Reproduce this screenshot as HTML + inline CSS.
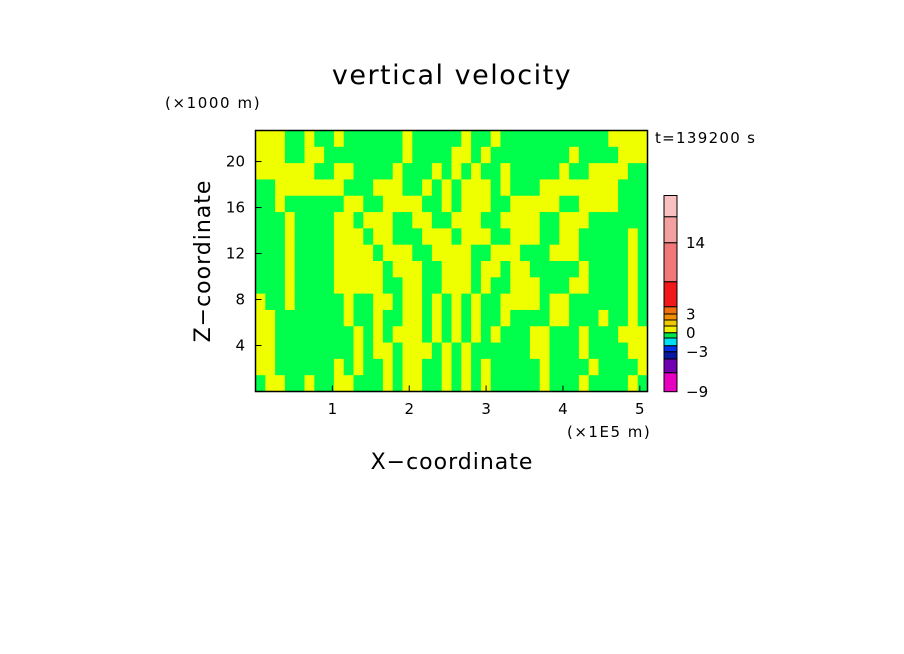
<!DOCTYPE html>
<html><head><meta charset="utf-8"><style>
html,body{margin:0;padding:0;background:#fff;width:904px;height:654px;overflow:hidden}
text{font-family:"DejaVu Sans","Liberation Sans",sans-serif;fill:#000}
</style></head><body>
<svg id="chart" width="904" height="654" xmlns="http://www.w3.org/2000/svg">
<text x="452" y="84" font-size="27" letter-spacing="1.5" text-anchor="middle">vertical velocity</text>
<text x="165" y="108" font-size="15" letter-spacing="1.6">(×1000 m)</text>
<text x="655" y="143" font-size="15" letter-spacing="1.3">t=139200 s</text>
<g id="field"></g>
<rect x="255.5" y="130.5" width="392" height="261" fill="none" stroke="#000" stroke-width="1.5"/>
<g id="axes"></g>
<text x="567" y="437" font-size="15" letter-spacing="1.5">(×1E5 m)</text>
<text x="452" y="469" font-size="22" letter-spacing="1" text-anchor="middle">X−coordinate</text>
<text x="0" y="0" font-size="22" letter-spacing="1" text-anchor="middle" transform="translate(210,261) rotate(-90)">Z−coordinate</text>
<g id="cbar"></g>
</svg>
<script>
const rows = [
"YYYGGYGGYGGGGGGYGGGGGYGGYGGGGGGGGGGGYYYY",
"YYYGGYYGGGGGGGGYGGGGYYGYGGGGGGGGYGGGGYYY",
"YYYYYYGGYYGGGGYGGGYGYGYGGYGGGGGYGGYYYYGG",
"GGYYYYYYYGGGYYYGGYGYGYYYGYGGGYYYYYYYYGGG",
"GGYGGGGGGYYGGYYYYGGYGYYYGGYYYYYGGYYYYGGG",
"GGGYGGGGYYGYYYGGYYGGYYYGGYYYYGGYYYGGGGGG",
"GGGYGGGGYYYGYYGGGYYYGYYYGGYYYGGYYGGGGGYG",
"GGGYGGGGYYYYGYYYGGYYYYGGYYYGGGYYYGGGGGYG",
"GGGYGGGGYYYYYGYYYGGYYYGYYGYYGGGGGYGGGGYG",
"GGGYGGGGYYYYYGGYYGGYYYGYGGYYYGGGYYGGGGYG",
"YGGYGGGGGYGGYYGYYGYGYGYGGYYYYGYYGGGGGGYG",
"YYGGGGGGGYGGYGGYYGYGYGYGGYGGGGYYGGGYGGYG",
"YYGGGGGGGGYGYGYYYGYGYGYGYGGGYYGGGYGGGYYY",
"YYGGGGGGGGYGYYGYYYGYGYGGGGGGYYGGGYGGGGYY",
"YYGGGGGGYGYGGYGYYGGYGYGYGGGGGYGGGGYGGGGY",
"GYYGGYGGYYGGGYGYYGGYGYGYGGGGGYGGGYGGGGYG"];
const xTicks = [1,2,3,4,5];
const zTicks = [4,8,12,16,20];
const cbColors = ["#e800c0","#7000b0","#0818a0","#0030f0","#00e0f0","#00e848","#f0f000","#f0c800","#f09000","#f07010","#f01818","#f07878","#f4a0a0","#f8c0c0"];
const cbLabels = ["-9","","","-3","","","0","","","3","","","14","",""];
const colorMap = {Y:"#f0ff00", G:"#00ff4c"};
const X0=255.5, X1=647.5, Y0=391.5, Y1=130.5, XMAX=5.1, ZMAX=22.7;
const sx = v => X0 + v/XMAX*(X1-X0);
const sz = v => Y0 - v/ZMAX*(Y0-Y1);
const NS="http://www.w3.org/2000/svg";
const field=document.getElementById('field');
const nr=rows.length, nc=rows[0].length;
const cw=(X1-X0)/nc, ch=(Y0-Y1)/nr;
rows.forEach((r,i)=>{for(let j=0;j<nc;j++){
  const el=document.createElementNS(NS,'rect');
  el.setAttribute('x',X0+j*cw);el.setAttribute('y',Y1+i*ch);
  el.setAttribute('width',cw+0.6);el.setAttribute('height',ch+0.6);
  el.setAttribute('fill',colorMap[r[j]]);
  
  
  field.appendChild(el);}});
const axes=document.getElementById('axes');
xTicks.forEach(v=>{
  const l=document.createElementNS(NS,'line');
  l.setAttribute('x1',sx(v));l.setAttribute('x2',sx(v));l.setAttribute('y1',Y0);l.setAttribute('y2',Y0-6);l.setAttribute('stroke','#000');
  
  
  axes.appendChild(l);
  const t=document.createElementNS(NS,'text');
  t.setAttribute('x',sx(v));t.setAttribute('y',414);t.setAttribute('font-size','15');t.setAttribute('text-anchor','middle');t.textContent=v;
  
  
  axes.appendChild(t);});
zTicks.forEach(v=>{
  const l=document.createElementNS(NS,'line');
  l.setAttribute('x1',X0);l.setAttribute('x2',X0+6);l.setAttribute('y1',sz(v));l.setAttribute('y2',sz(v));l.setAttribute('stroke','#000');
  
  
  axes.appendChild(l);
  const t=document.createElementNS(NS,'text');
  t.setAttribute('x',245);t.setAttribute('y',sz(v)+5);t.setAttribute('font-size','15');t.setAttribute('text-anchor','end');t.textContent=v;
  
  
  axes.appendChild(t);});
const cb=document.getElementById('cbar');
const bounds=[391.7,372.7,359,351.7,345.7,338,332.7,326,320,314,306.7,281.7,242.7,216.7,195.5];
cbColors.forEach((c,i)=>{
  const r=document.createElementNS(NS,'rect');
  r.setAttribute('x',664);r.setAttribute('y',bounds[i+1]);r.setAttribute('width',13);r.setAttribute('height',bounds[i]-bounds[i+1]);
  r.setAttribute('fill',c);r.setAttribute('stroke','#000');r.setAttribute('stroke-width','1');
  
  
  cb.appendChild(r);
});
cbLabels.forEach((lab,i)=>{
  if(!lab) return;
  const t=document.createElementNS(NS,'text');
  t.setAttribute('x',686);t.setAttribute('y',bounds[i]+5.5);
  t.setAttribute('font-size','15');t.textContent=lab.replace('-','−');
  
  
  cb.appendChild(t);
});
</script>
</body></html>
